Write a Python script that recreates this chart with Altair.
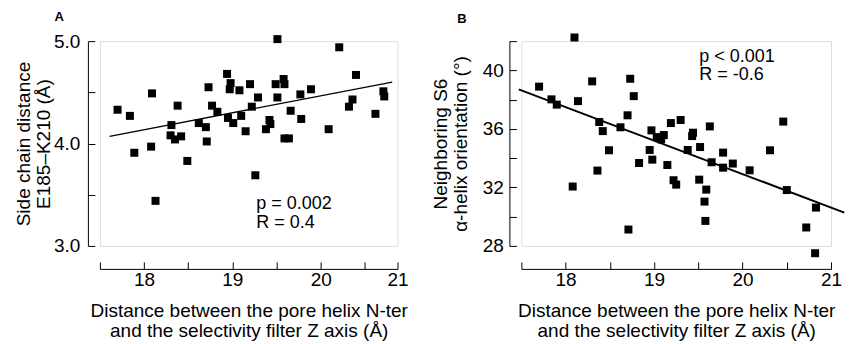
import altair as alt
import pandas as pd

# ---------- Panel A data ----------
a_x = [17.70, 17.84, 18.09, 17.89, 18.08, 18.13, 18.31, 18.30, 18.35, 18.38,
       18.42, 18.49, 18.62, 18.70, 18.71, 18.73, 18.77, 18.83, 18.94, 18.98,
       18.97, 18.95, 19.01, 19.08, 19.10, 19.15, 19.20, 19.22, 19.26, 19.29,
       19.38, 19.42, 19.43, 19.51, 19.49, 19.51, 19.58, 19.59, 19.59, 19.64,
       19.66, 19.77, 19.78, 19.89, 20.09, 20.21, 20.32, 20.36, 20.40, 20.62,
       20.71, 20.72]
a_y = [4.33, 4.27, 4.49, 3.91, 3.97, 3.44, 4.18, 4.08, 4.04, 4.37,
       4.07, 3.83, 4.20, 4.16, 4.02, 4.55, 4.37, 4.31, 4.68, 4.59,
       4.53, 4.25, 4.20, 4.52, 4.27, 4.12, 4.58, 4.36, 3.69, 4.45,
       4.14, 4.23, 4.19, 5.02, 4.58, 4.45, 4.63, 4.58, 4.05, 4.05,
       4.32, 4.48, 4.24, 4.53, 4.14, 4.94, 4.36, 4.43, 4.67, 4.29,
       4.51, 4.46]
a_fit_x = [17.61, 20.81]
a_fit_y = [4.07, 4.60]
a_annot = ["p = 0.002", "R = 0.4"]
a_annot_x = [19.27, 19.27]
a_annot_y = [3.407, 3.225]

# ---------- Panel B data ----------
b_x = [17.70, 17.84, 17.90, 18.10, 18.14, 18.08, 18.30, 18.36, 18.38, 18.42,
       18.49, 18.62, 18.70, 18.71, 18.73, 18.77, 18.83, 18.97, 18.95, 18.98,
       19.03, 19.08, 19.11, 19.15, 19.19, 19.22, 19.25, 19.30, 19.38, 19.43,
       19.44, 19.52, 19.51, 19.59, 19.57, 19.58, 19.63, 19.65, 19.78, 19.78,
       19.89, 20.08, 20.31, 20.46, 20.50, 20.72, 20.83, 20.82]
b_y = [38.89, 38.02, 37.66, 42.25, 37.90, 32.06, 39.25, 33.15, 36.47, 35.85,
       34.54, 36.11, 36.93, 29.12, 39.43, 38.24, 33.67, 35.90, 34.56, 33.90,
       35.44, 35.29, 35.58, 33.53, 36.40, 32.49, 32.19, 36.61, 34.56, 35.51,
       35.74, 34.76, 32.53, 31.85, 31.03, 29.71, 36.17, 33.72, 34.38, 33.35,
       33.63, 33.17, 34.54, 36.50, 31.82, 29.26, 30.62, 27.50]
b_fit_x = [17.47, 21.15]
b_fit_y = [38.70, 30.28]
b_annot = ["p < 0.001", "R = -0.6"]
b_annot_x = [19.51, 19.51]
b_annot_y = [40.93, 39.67]

FONT = "Liberation Sans"
FS = 19
XT_FS = 19
ANN_FS = 18


def panel(px, py, fx, fy, ax_, ay_, atext, xdom, xticks, xlabels, xlabel_expr,
          ydom, yticks, ylabels, ylabel_expr, ytitle, w, h, letter, letter_dx,
          fit_width, ylab_pad, ytitle_pad):
    pts = pd.DataFrame({"x": px, "y": py})
    fit = pd.DataFrame({"x": fx, "y": fy})
    ann = pd.DataFrame({"x": ax_, "y": ay_, "t": atext})
    xs = alt.Scale(domain=xdom, nice=False, zero=False)
    ys = alt.Scale(domain=ydom, nice=False, zero=False)

    points = alt.Chart(pts).mark_point(shape="square", filled=True, size=64,
                                       color="black", opacity=1).encode(
        x=alt.X("x:Q", scale=xs, axis=alt.Axis(
            orient="bottom", offset=23, domain=False, ticks=False, grid=False,
            values=xlabels, labelExpr=xlabel_expr, labelFlush=False,
            labelOverlap=False, labelFont=FONT, labelFontSize=FS,
            labelColor="black", labelPadding=2,
            title=["Distance between the pore helix N-ter",
                   "and the selectivity filter Z axis (Å)"],
            titleFont=FONT, titleFontSize=XT_FS, titleFontWeight="normal",
            titleColor="black", titleLineHeight=19.3, titlePadding=12)),
        y=alt.Y("y:Q", scale=ys, axis=alt.Axis(
            orient="left", offset=12, domain=False, ticks=False, grid=False,
            values=ylabels, labelExpr=ylabel_expr, labelFlush=False,
            labelOverlap=False, labelFont=FONT, labelFontSize=FS,
            labelColor="black", labelPadding=ylab_pad,
            title=ytitle, titleFont=FONT, titleFontSize=FS,
            titleFontWeight="normal", titleColor="black",
            titleLineHeight=20, titlePadding=ytitle_pad)),
    )
    line = alt.Chart(fit).mark_line(color="black", strokeWidth=fit_width).encode(
        x=alt.X("x:Q", scale=xs, axis=alt.Axis(
            orient="top", offset=-(h + 23), labels=False, title=None,
            grid=False, values=xticks, tickSize=7, tickColor="black",
            tickWidth=1, domainColor="black", domainWidth=1)),
        y=alt.Y("y:Q", scale=ys, axis=alt.Axis(
            orient="right", offset=-(w + 12), labels=False, title=None,
            grid=False, values=yticks, tickSize=7, tickColor="black",
            tickWidth=1, domainColor="black", domainWidth=1)),
    )
    text = alt.Chart(ann).mark_text(align="left", baseline="middle", font=FONT,
                                    fontSize=ANN_FS, color="black").encode(
        x=alt.X("x:Q", scale=xs, axis=None),
        y=alt.Y("y:Q", scale=ys, axis=None),
        text="t:N",
    )
    return alt.layer(points, line, text).resolve_axis(
        x="independent", y="independent"
    ).properties(
        width=w, height=h,
        title=alt.TitleParams(letter, anchor="start", font=FONT, fontSize=13,
                              fontWeight="bold", color="black", dx=letter_dx,
                              offset=8),
    )


chart_a = panel(a_x, a_y, a_fit_x, a_fit_y, a_annot_x, a_annot_y, a_annot,
                [17.5, 20.87], [17.5, 18, 18.5, 19, 19.5, 20, 20.5, 20.87],
                [18, 19, 20, 20.87],
                "datum.value > 20.5 ? '21' : datum.label",
                [3.0, 5.0], [3.0, 3.5, 4.0, 4.5, 5.0], [3.0, 4.0, 5.0],
                "format(datum.value, '.1f')",
                ["Side chain distance", "E185–K210 (Å)"], 298, 205, "A", 40,
                1.3, 8, 0)

chart_b = panel(b_x, b_y, b_fit_x, b_fit_y, b_annot_x, b_annot_y, b_annot,
                [17.5, 21.0], [17.5, 18, 18.5, 19, 19.5, 20, 20.5, 21],
                [18, 19, 20, 21], "datum.label",
                [28, 42], [28, 30, 32, 34, 36, 38, 40, 42], [28, 32, 36, 40],
                "datum.label",
                ["Neighboring S6", "α-helix orientation (°)"], 310, 205, "B",
                26, 2, 6, 12)

chart = alt.hconcat(chart_a, chart_b, spacing=21).properties(
    padding={"left": 14, "top": 10, "right": 0, "bottom": 0},
).configure_view(stroke=None).configure(background="white")

chart.save("out.html", embed_options={"renderer": "svg", "actions": False})
